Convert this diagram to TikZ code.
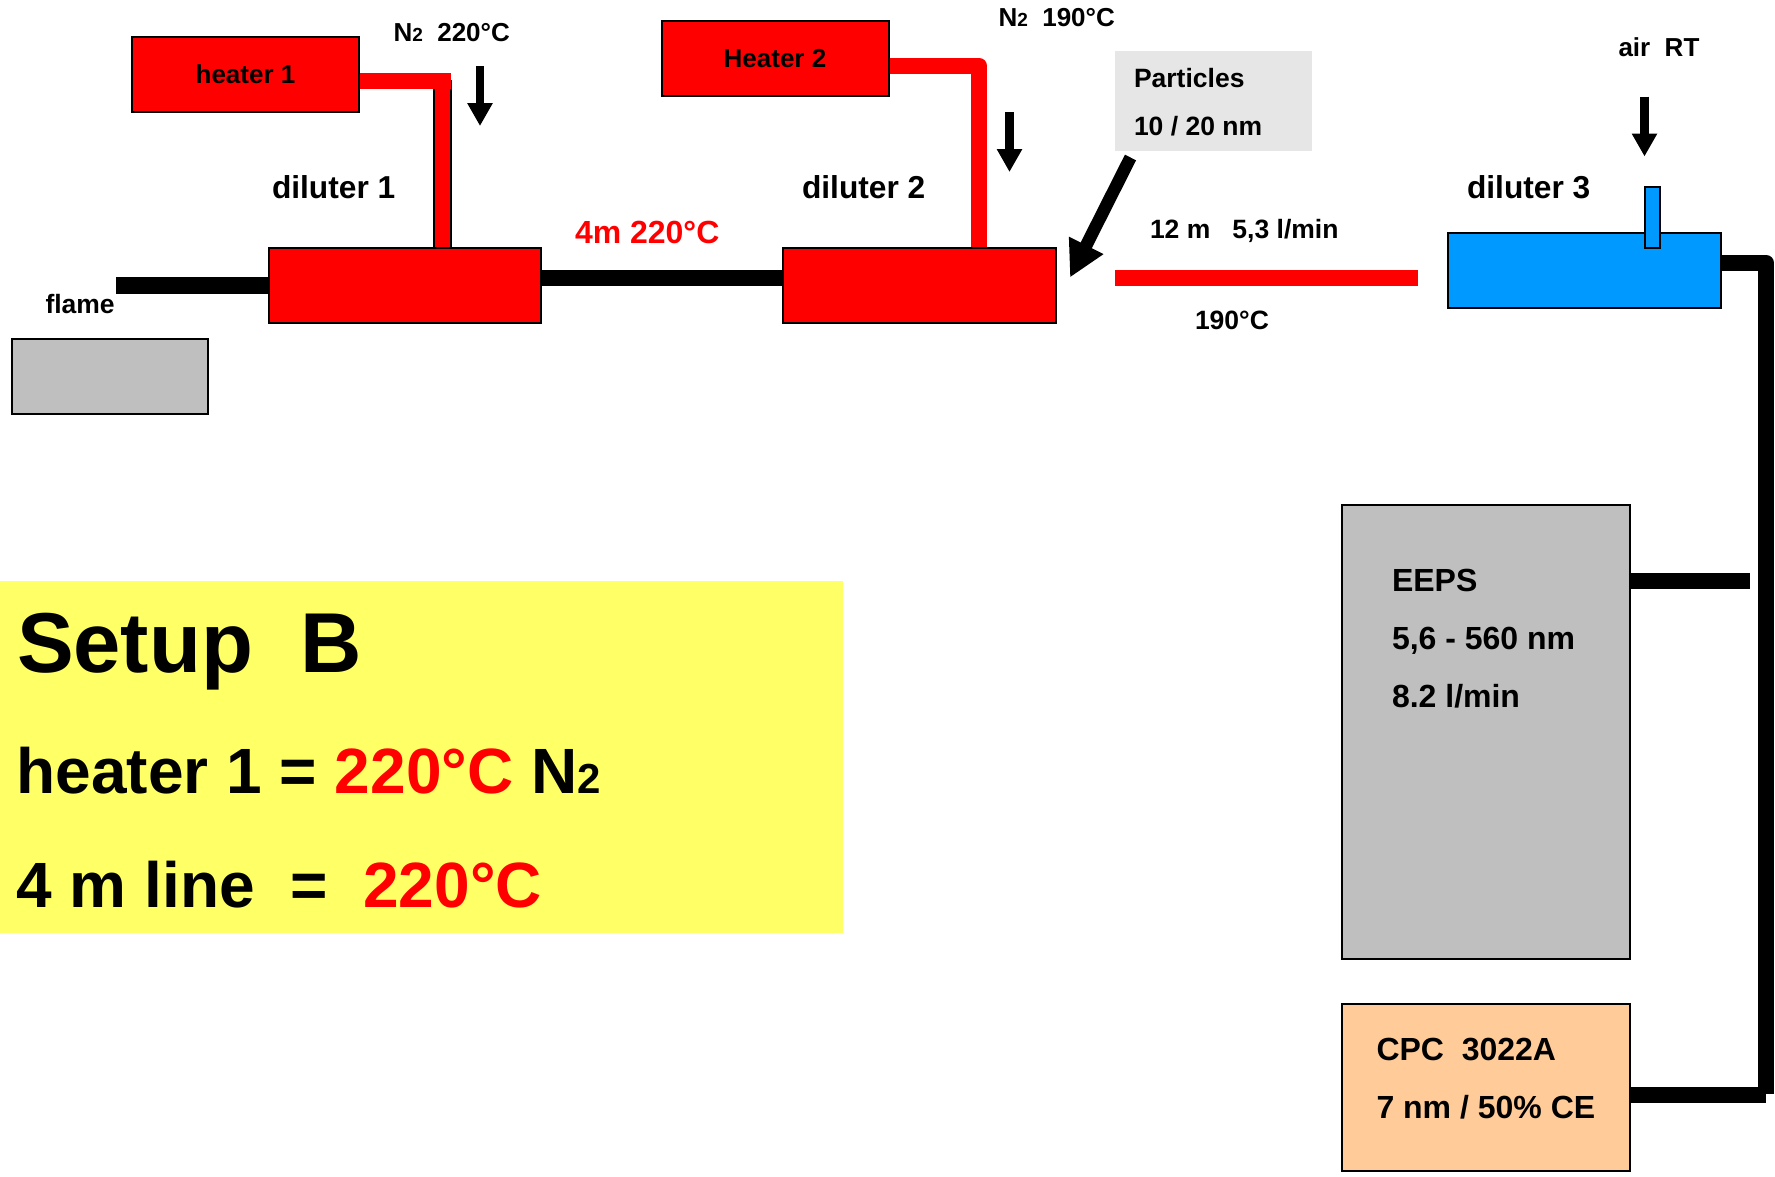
\documentclass[tikz,border=0pt]{standalone}
\usepackage{fontspec}
\setmainfont{Liberation Sans}
\usetikzlibrary{arrows.meta}
\definecolor{boxgrey}{HTML}{BFBFBF}
\definecolor{partgrey}{HTML}{E6E6E6}
\definecolor{dilblue}{HTML}{0099FF}
\definecolor{cpcorange}{HTML}{FFCC99}
\definecolor{setupyellow}{HTML}{FFFF66}
\definecolor{hotred}{HTML}{FF0000}
\newcommand{\fsz}[1]{\fontsize{#1}{#1}\selectfont}
\tikzset{
  box/.style={draw=black,line width=2pt,inner sep=0pt,outer sep=0pt,font=\bfseries\fsz{26}},
  flatbox/.style={inner sep=0pt,outer sep=0pt},
  label/.style={anchor=base west,inner sep=0pt,outer sep=0pt,font=\bfseries\fsz{26}},
  midlabel/.style={label,font=\bfseries\fsz{26.5}},
  biglabel/.style={label,font=\bfseries\fsz{32}},
  dillabel/.style={label,font=\bfseries\fsz{31.7}},
  hugelabel/.style={label,font=\bfseries\fsz{64}},
  blackpipe/.style={line width=16.5pt,black,line join=round},
  redpipe/.style={line width=16.5pt,hotred,line join=round},
  flowarrow/.style={line width=8.5pt,black,-{Triangle[length=23pt,width=24pt]}},
  bigarrow/.style={line width=12.5pt,black,-{Triangle[length=36pt,width=36pt]}},
}
\begin{document}
\begin{tikzpicture}[x=1pt,y=-1pt]
\useasboundingbox (0,0) rectangle (1775,1176);

% named free ends
\coordinate (flamestart) at (116,285.5);
\coordinate (h1corner) at (450.5,81);
\coordinate (h1top) at (442.5,80);
\coordinate (h1foot) at (442.5,248);
\coordinate (h2corner) at (979,66);
\coordinate (h2foot) at (979,248);
\coordinate (linestart) at (541,278);
\coordinate (lineend) at (782,278);
\coordinate (hotstart) at (1115,278);
\coordinate (hotend) at (1418,278);
\coordinate (d3out) at (1721,263);
\coordinate (rightcorner) at (1766,263);
\coordinate (rightfoot) at (1766,1094);
\coordinate (cpcin) at (1630,1095);
\coordinate (cpcend) at (1766,1095);
\coordinate (eepsin) at (1630,581);
\coordinate (eepsend) at (1750,581);
\coordinate (a1s) at (480,66);
\coordinate (a1e) at (480,126);
\coordinate (a2s) at (1009.5,112);
\coordinate (a2e) at (1009.5,172);
\coordinate (a3s) at (1644.5,96.5);
\coordinate (a3e) at (1644.5,156.5);
\coordinate (pstart) at (1130.5,157.5);
\coordinate (pend) at (1070,277.5);

% backgrounds
\node[flatbox,fill=setupyellow,minimum width=843pt,minimum height=352pt] (setupbg) at (421.5,757) {};
\node[flatbox,fill=partgrey,minimum width=197pt,minimum height=100pt] (particlesbg) at (1213.5,101) {};

% pipes
\draw[line width=19pt,black] (h1top) -- (h1foot);
\draw[line width=15pt,hotred] (h1top) -- (h1foot);
\draw[redpipe] (359,81) -- (h1corner);
\draw[redpipe] (889,66) -- (h2corner) -- (h2foot);
\draw[line width=17.5pt,black] (flamestart) -- (268,285.5);
\draw[blackpipe] (linestart) -- (lineend);
\draw[redpipe] (hotstart) -- (hotend);
\draw[blackpipe] (d3out) -- (rightcorner) -- (rightfoot);
\draw[blackpipe] (cpcin) -- (cpcend);
\draw[blackpipe] (eepsin) -- (eepsend);

% boxes
\node[box,fill=hotred,minimum width=227pt,minimum height=75pt] (heater1) at (245.5,74.5) {\raisebox{-1pt}{heater 1}};
\node[box,fill=hotred,minimum width=227pt,minimum height=75pt] (heater2) at (775,58.5) {\raisebox{-1pt}{Heater 2}};
\node[box,fill=hotred,minimum width=272pt,minimum height=75.5pt] (dil1) at (404.5,285.5) {};
\node[box,fill=hotred,minimum width=273pt,minimum height=75.5pt] (dil2) at (919,285.5) {};
\node[box,fill=dilblue,minimum width=273pt,minimum height=75pt] (dil3) at (1584,270) {};
\node[box,fill=dilblue,minimum width=15pt,minimum height=61pt] (airtube) at (1652,217) {};
\node[box,fill=boxgrey,minimum width=196pt,minimum height=75pt] (flamebox) at (109.5,376) {};
\node[box,fill=boxgrey,minimum width=288pt,minimum height=454pt] (eeps) at (1486,732) {};
\node[box,fill=cpcorange,minimum width=288pt,minimum height=167pt] (cpc) at (1486,1087.5) {};

% arrows
\draw[flowarrow] (a1s) -- (a1e);
\draw[flowarrow] (a2s) -- (a2e);
\draw[flowarrow] (a3s) -- (a3e);
\draw[bigarrow] (pstart) -- (pend);

% labels
\node[label] (n1) at (393.5,41) {N{\fsz{19}2}\ \ 220°C};
\node[label] (n2) at (998.5,26) {N{\fsz{19}2}\ \ 190°C};
\node[label] (air) at (1618.5,56) {air\ \ RT};
\node[midlabel] (flame) at (45.5,313) {flame};
\node[dillabel] (d1l) at (272,198) {diluter 1};
\node[dillabel] (d2l) at (802,198) {diluter 2};
\node[dillabel] (d3l) at (1467,198) {diluter 3};
\node[biglabel] (line4) at (575,243) {\textcolor{hotred}{4m 220°C}};
\node[midlabel] (part1) at (1134,87) {Particles};
\node[midlabel] (part2) at (1134,135) {10 / 20 nm};
\node[midlabel] (len12) at (1150,238) {12 m\ \ \ 5,3 l/min};
\node[midlabel] (t190) at (1195,329) {190°C};
\node[biglabel] (e1) at (1392,591) {EEPS};
\node[biglabel] (e2) at (1392,649) {5,6 - 560 nm};
\node[biglabel] (e3) at (1392,707) {8.2 l/min};
\node[biglabel] (c1) at (1376.5,1060) {CPC\ \ 3022A};
\node[biglabel] (c2) at (1376.5,1118) {7 nm / 50\% CE};
\node[label,font=\bfseries\fsz{85}] (s1) at (17,672) {Setup\ \ B};
\node[hugelabel] (s2) at (16.5,793) {heater 1 = \textcolor{hotred}{220°C} N{\fsz{42}2}};
\node[hugelabel] (s3) at (16.5,907) {4 m line\ \ =\ \ \textcolor{hotred}{220°C}};
\end{tikzpicture}
\end{document}
